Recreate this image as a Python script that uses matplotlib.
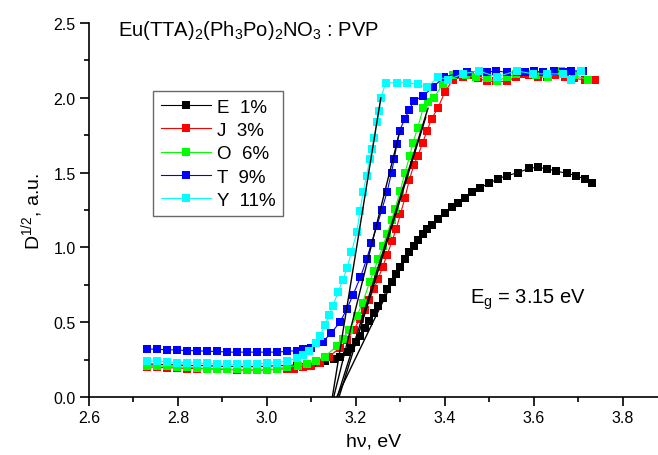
import matplotlib
matplotlib.use("Agg")
import matplotlib.pyplot as plt
from matplotlib.ticker import MultipleLocator, FormatStrFormatter

plt.rcParams['font.family'] = ['Liberation Sans', 'DejaVu Sans']
plt.rcParams['mathtext.fontset'] = 'custom'
plt.rcParams['mathtext.rm'] = 'Liberation Sans'
plt.rcParams['mathtext.it'] = 'Liberation Sans:italic'

# ---------------- data ----------------
labels = ["E  1%", "J  3%", "O  6%", "T  9%", "Y  11%"]
colors = ["#000000", "#ff0000", "#00ff00", "#0000ff", "#00ffff"]

xE = [2.73, 2.752, 2.775, 2.797, 2.82, 2.842, 2.865, 2.887, 2.91, 2.932, 2.955, 2.977,
      3.0, 3.022, 3.045, 3.067, 3.09, 3.11, 3.13, 3.15, 3.165, 3.18, 3.19, 3.20, 3.21,
      3.22, 3.23, 3.24, 3.25, 3.26, 3.27, 3.28, 3.29, 3.30, 3.31, 3.32, 3.33, 3.34,
      3.35, 3.36, 3.37, 3.385, 3.40, 3.415, 3.43, 3.445, 3.46, 3.48, 3.50, 3.52, 3.54,
      3.565, 3.59, 3.61, 3.63, 3.65, 3.675, 3.695, 3.715, 3.73]
yE = [0.22, 0.22, 0.215, 0.215, 0.21, 0.21, 0.21, 0.205, 0.205, 0.205, 0.20, 0.205,
      0.205, 0.21, 0.21, 0.215, 0.22, 0.23, 0.24, 0.255, 0.27, 0.30, 0.33, 0.37, 0.41,
      0.46, 0.51, 0.56, 0.61, 0.66, 0.72, 0.77, 0.82, 0.87, 0.92, 0.97, 1.01, 1.05,
      1.09, 1.12, 1.15, 1.19, 1.23, 1.27, 1.30, 1.33, 1.37, 1.40, 1.43, 1.46, 1.48,
      1.50, 1.53, 1.535, 1.525, 1.51, 1.495, 1.48, 1.455, 1.43]

xJ = [2.73, 2.752, 2.775, 2.797, 2.82, 2.842, 2.865, 2.887, 2.91, 2.932, 2.955, 2.977,
      3.0, 3.022, 3.045, 3.06, 3.08, 3.10, 3.12, 3.14, 3.164, 3.18, 3.195, 3.209, 3.22,
      3.23, 3.24, 3.25, 3.26, 3.27, 3.281, 3.29, 3.30, 3.31, 3.32, 3.33, 3.339, 3.35,
      3.36, 3.37, 3.384, 3.40, 3.418, 3.44, 3.456, 3.475, 3.494, 3.515, 3.539, 3.56,
      3.575, 3.59, 3.609, 3.63, 3.647, 3.67, 3.69, 3.715, 3.737]
yJ = [0.20, 0.20, 0.195, 0.195, 0.19, 0.19, 0.19, 0.185, 0.185, 0.18, 0.18, 0.18,
      0.18, 0.185, 0.19, 0.19, 0.20, 0.21, 0.23, 0.27, 0.33, 0.38, 0.45, 0.52, 0.58,
      0.65, 0.72, 0.79, 0.87, 0.95, 1.04, 1.12, 1.22, 1.33, 1.45, 1.55, 1.61, 1.70,
      1.78, 1.86, 1.93, 2.04, 2.12, 2.14, 2.15, 2.13, 2.11, 2.11, 2.11, 2.14,
      2.16, 2.15, 2.14, 2.14, 2.15, 2.14, 2.13, 2.12, 2.12]

xO = [2.73, 2.752, 2.775, 2.797, 2.82, 2.842, 2.865, 2.887, 2.91, 2.932, 2.955, 2.977,
      3.0, 3.022, 3.045, 3.07, 3.09, 3.11, 3.13, 3.157, 3.17, 3.185, 3.202, 3.215, 3.231,
      3.24, 3.25, 3.261, 3.27, 3.28, 3.288, 3.30, 3.31, 3.321, 3.328, 3.339, 3.351,
      3.363, 3.375, 3.395, 3.418, 3.448, 3.47, 3.495, 3.516, 3.54, 3.56, 3.58, 3.605,
      3.632, 3.66, 3.69, 3.722]
yO = [0.21, 0.21, 0.205, 0.20, 0.20, 0.195, 0.19, 0.19, 0.185, 0.185, 0.18, 0.18,
      0.18, 0.19, 0.20, 0.21, 0.22, 0.24, 0.27, 0.34, 0.39, 0.45, 0.54, 0.63, 0.77,
      0.84, 0.92, 1.01, 1.09, 1.18, 1.26, 1.38, 1.50, 1.61, 1.70, 1.80, 1.93,
      1.97, 2.00, 2.09, 2.15, 2.15, 2.14, 2.13, 2.11, 2.14, 2.16, 2.17, 2.15,
      2.14, 2.18, 2.15, 2.12]

xT = [2.73, 2.752, 2.775, 2.797, 2.82, 2.842, 2.865, 2.887, 2.91, 2.932, 2.955, 2.977,
      3.0, 3.022, 3.045, 3.067, 3.08, 3.10, 3.126, 3.145, 3.164, 3.18, 3.193, 3.21, 3.224,
      3.235, 3.247, 3.258, 3.27, 3.28, 3.286, 3.292, 3.298, 3.31, 3.32, 3.33, 3.35,
      3.373, 3.398, 3.427, 3.45, 3.476, 3.495, 3.514, 3.54, 3.561, 3.58, 3.60, 3.62,
      3.645, 3.665, 3.683, 3.71]
yT = [0.32, 0.32, 0.315, 0.315, 0.31, 0.31, 0.305, 0.305, 0.30, 0.30, 0.30, 0.30,
      0.30, 0.30, 0.305, 0.31, 0.32, 0.33, 0.37, 0.43, 0.50, 0.59, 0.68, 0.80, 0.92,
      1.03, 1.14, 1.25, 1.37, 1.50, 1.59, 1.69, 1.78, 1.86, 1.92, 1.98, 2.01,
      2.07, 2.14, 2.16, 2.17, 2.18, 2.17, 2.18, 2.17, 2.17, 2.17, 2.18, 2.17,
      2.18, 2.17, 2.18, 2.18]

xY = [2.73, 2.752, 2.775, 2.797, 2.82, 2.842, 2.865, 2.887, 2.91, 2.932, 2.955, 2.977,
      3.0, 3.022, 3.045, 3.067, 3.08, 3.095, 3.11, 3.119, 3.13, 3.14, 3.148, 3.16, 3.17,
      3.18, 3.19, 3.202, 3.209, 3.216, 3.224, 3.231, 3.236, 3.241, 3.247, 3.252, 3.256,
      3.267, 3.292, 3.315, 3.339, 3.36, 3.385, 3.407, 3.44, 3.476, 3.516, 3.561, 3.598,
      3.629, 3.665, 3.683, 3.706]
yY = [0.24, 0.24, 0.235, 0.23, 0.23, 0.225, 0.225, 0.22, 0.22, 0.22, 0.22, 0.22,
      0.225, 0.23, 0.24, 0.26, 0.28, 0.31, 0.36, 0.41, 0.48, 0.55, 0.61, 0.70, 0.78,
      0.86, 0.97, 1.10, 1.24, 1.37, 1.48, 1.59, 1.66, 1.73, 1.84, 1.91, 2.00,
      2.10, 2.10, 2.10, 2.09, 2.07, 2.14, 2.12, 2.16, 2.18, 2.14, 2.18, 2.16,
      2.16, 2.16, 2.12, 2.18]

series_x = [xE, xJ, xO, xT, xY]
series_y = [yE, yJ, yO, yT, yY]

# linear fits (tangents) for the band-gap extrapolation: start on x-axis, end point
fit_x0 = [3.157, 3.162, 3.158, 3.150, 3.147]
fit_x1 = [3.300, 3.357, 3.362, 3.299, 3.256]
fit_y1 = [0.88, 1.87, 1.93, 1.78, 2.00]

title = r"Eu(TTA)$_2$(Ph$_3$Po)$_2$NO$_3$ : PVP"
eg_text = r"E$_{\rm g}$ = 3.15 eV"

# ---------------- figure ----------------
fig = plt.figure(figsize=(6.58, 4.56), dpi=100)
ax = fig.add_axes([89/658, 1-398/456, 1-89/658, (398-24)/456])

for x, y, c, lab in zip(series_x, series_y, colors, labels):
    ax.plot(x, y, '-', color=c, lw=0.8, marker='s', ms=6, mew=0, label=lab)

for x0, x1, y1 in zip(fit_x0, fit_x1, fit_y1):
    ax.plot([x0, x1], [0, y1], color='black', lw=1.0, zorder=5)

ax.set_xlim(2.6, 3.879)
ax.set_ylim(0, 2.5)
ax.xaxis.set_major_locator(MultipleLocator(0.2))
ax.xaxis.set_minor_locator(MultipleLocator(0.1))
ax.yaxis.set_major_locator(MultipleLocator(0.5))
ax.yaxis.set_minor_locator(MultipleLocator(0.25))
ax.xaxis.set_major_formatter(FormatStrFormatter('%.1f'))
ax.yaxis.set_major_formatter(FormatStrFormatter('%.1f'))

for s in ['top', 'right']:
    ax.spines[s].set_visible(False)
for s in ['left', 'bottom']:
    ax.spines[s].set_linewidth(1.2)
ax.tick_params(which='major', direction='out', length=6.5, width=1.2, labelsize=11.5, pad=3)
ax.tick_params(which='minor', direction='out', length=3.5, width=1.2)

ax.set_xlabel("hν, eV", fontsize=14, labelpad=5)
ax.set_ylabel(r"D$^{1/2}$, a.u.", fontsize=14, labelpad=6)

fig.text(118/658, 1-31/456, title, fontsize=14.5, ha='left', va='center')
ax.text(3.456, 0.655, eg_text, fontsize=14.5, ha='left', va='center')

leg = ax.legend(loc='upper left', bbox_to_anchor=(153/658, 1-92/456),
                bbox_transform=fig.transFigure, fontsize=13.5, frameon=True,
                fancybox=False, edgecolor='#444444', handlelength=2.7,
                handletextpad=0.3, labelspacing=0.33, borderpad=0.4,
                borderaxespad=0, numpoints=1)
leg.get_frame().set_linewidth(1.0)

fig.savefig("out.png", dpi=100)
